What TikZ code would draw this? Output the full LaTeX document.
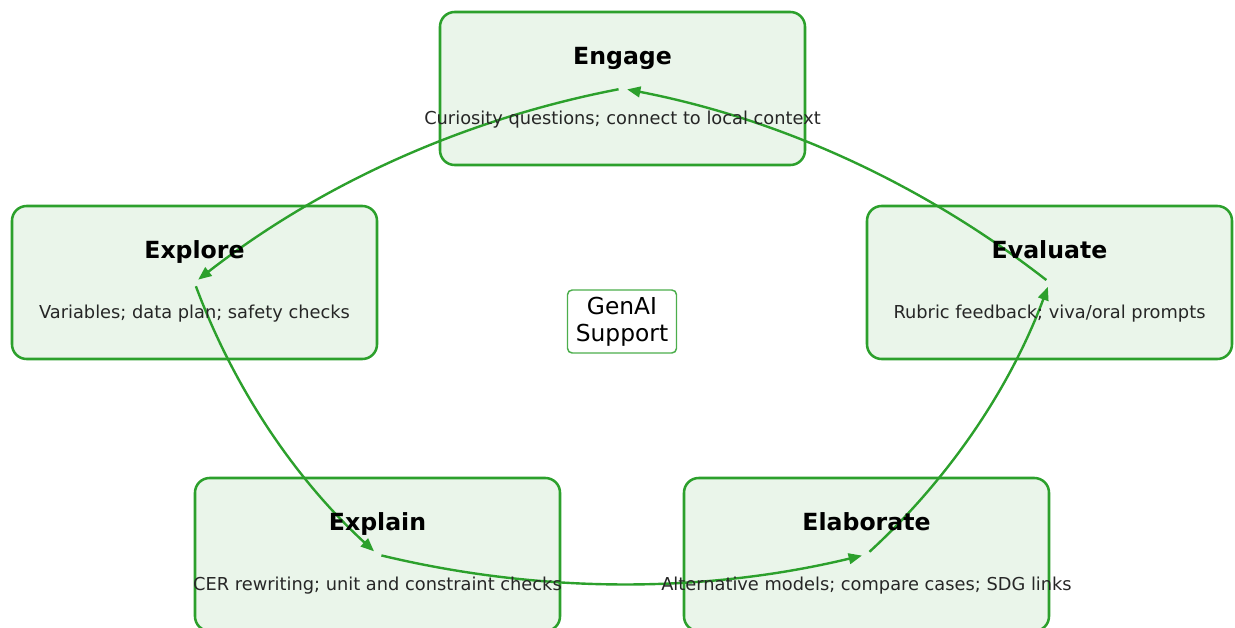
\documentclass[tikz,border=0pt]{standalone}
\usepackage{fontspec}
\setmainfont{DejaVu Sans}
\usetikzlibrary{calc,arrows.meta}

\definecolor{phasegreen}{RGB}{44,160,44}

\tikzset{
  phasebox/.style={draw=phasegreen, line width=1.9pt, fill=phasegreen!10,
    rounded corners=11pt, minimum width=273.75pt, minimum height=114.75pt,
    inner sep=0pt},
  phasetitle/.style={anchor=base, inner sep=0pt,
    font=\fontsize{17.7pt}{21pt}\selectfont\bfseries},
  phasenote/.style={anchor=base, inner sep=0pt, text=black!85,
    font=\fontsize{13.35pt}{16pt}\selectfont},
  hubbox/.style={draw=phasegreen!85, line width=1.1pt, fill=white,
    rounded corners=3.5pt, minimum width=81.75pt, minimum height=47.25pt,
    inner sep=0pt, align=center,
    font=\fontsize{17.5pt}{20pt}\selectfont},
  flow/.style={draw=phasegreen, line width=1.8pt,
    -{Triangle[length=10pt,width=8pt]},
    shorten <=3pt, shorten >=3.5pt},
}

% curved connector: quadratic arc bulging to the right of the travel direction
\newcommand\cyclearrow[2]{%
  \path ($(#1.center)!0.5!(#2.center)!0.24!-90:(#2.center)$) coordinate (ctl-#1);
  \draw[flow] (#1.center) .. controls ($(#1.center)!2/3!(ctl-#1)$)
    and ($(#2.center)!2/3!(ctl-#1)$) .. (#2.center);
}

\begin{document}
\begin{tikzpicture}[x=0.75pt, y=-0.75pt]
\useasboundingbox (0,0) rectangle (1235,628);

% the five phase boxes
\node[phasebox] (eng)  at (622.5, 88.5)  {};
\node[phasebox] (expl) at (194.5, 282.5) {};
\node[phasebox] (eval) at (1049.5, 282.5) {};
\node[phasebox] (xpn)  at (377.5, 554.5) {};
\node[phasebox] (elab) at (866.5, 554.5) {};

% central hub
\node[hubbox] (hub) at (622, 321.5) {GenAI\\Support};

% cycle connectors
\cyclearrow{eng}{expl}
\cyclearrow{expl}{xpn}
\cyclearrow{xpn}{elab}
\cyclearrow{elab}{eval}
\cyclearrow{eval}{eng}

% titles and notes
\node[phasetitle] (eng-t)  at ($(eng.center)+(0,-24.5)$)  {Engage};
\node[phasenote]  (eng-n)  at ($(eng.center)+(0,35.5)$)   {Curiosity questions; connect to local context};
\node[phasetitle] (expl-t) at ($(expl.center)+(0,-24.5)$) {Explore};
\node[phasenote]  (expl-n) at ($(expl.center)+(0,35.5)$)  {Variables; data plan; safety checks};
\node[phasetitle] (eval-t) at ($(eval.center)+(0,-24.5)$) {Evaluate};
\node[phasenote]  (eval-n) at ($(eval.center)+(0,35.5)$)  {Rubric feedback; viva/oral prompts};
\node[phasetitle] (xpn-t)  at ($(xpn.center)+(0,-24.5)$)  {Explain};
\node[phasenote]  (xpn-n)  at ($(xpn.center)+(0,35.5)$)   {CER rewriting; unit and constraint checks};
\node[phasetitle] (elab-t) at ($(elab.center)+(0,-24.5)$) {Elaborate};
\node[phasenote]  (elab-n) at ($(elab.center)+(0,35.5)$)  {Alternative models; compare cases; SDG links};
\end{tikzpicture}
\end{document}
